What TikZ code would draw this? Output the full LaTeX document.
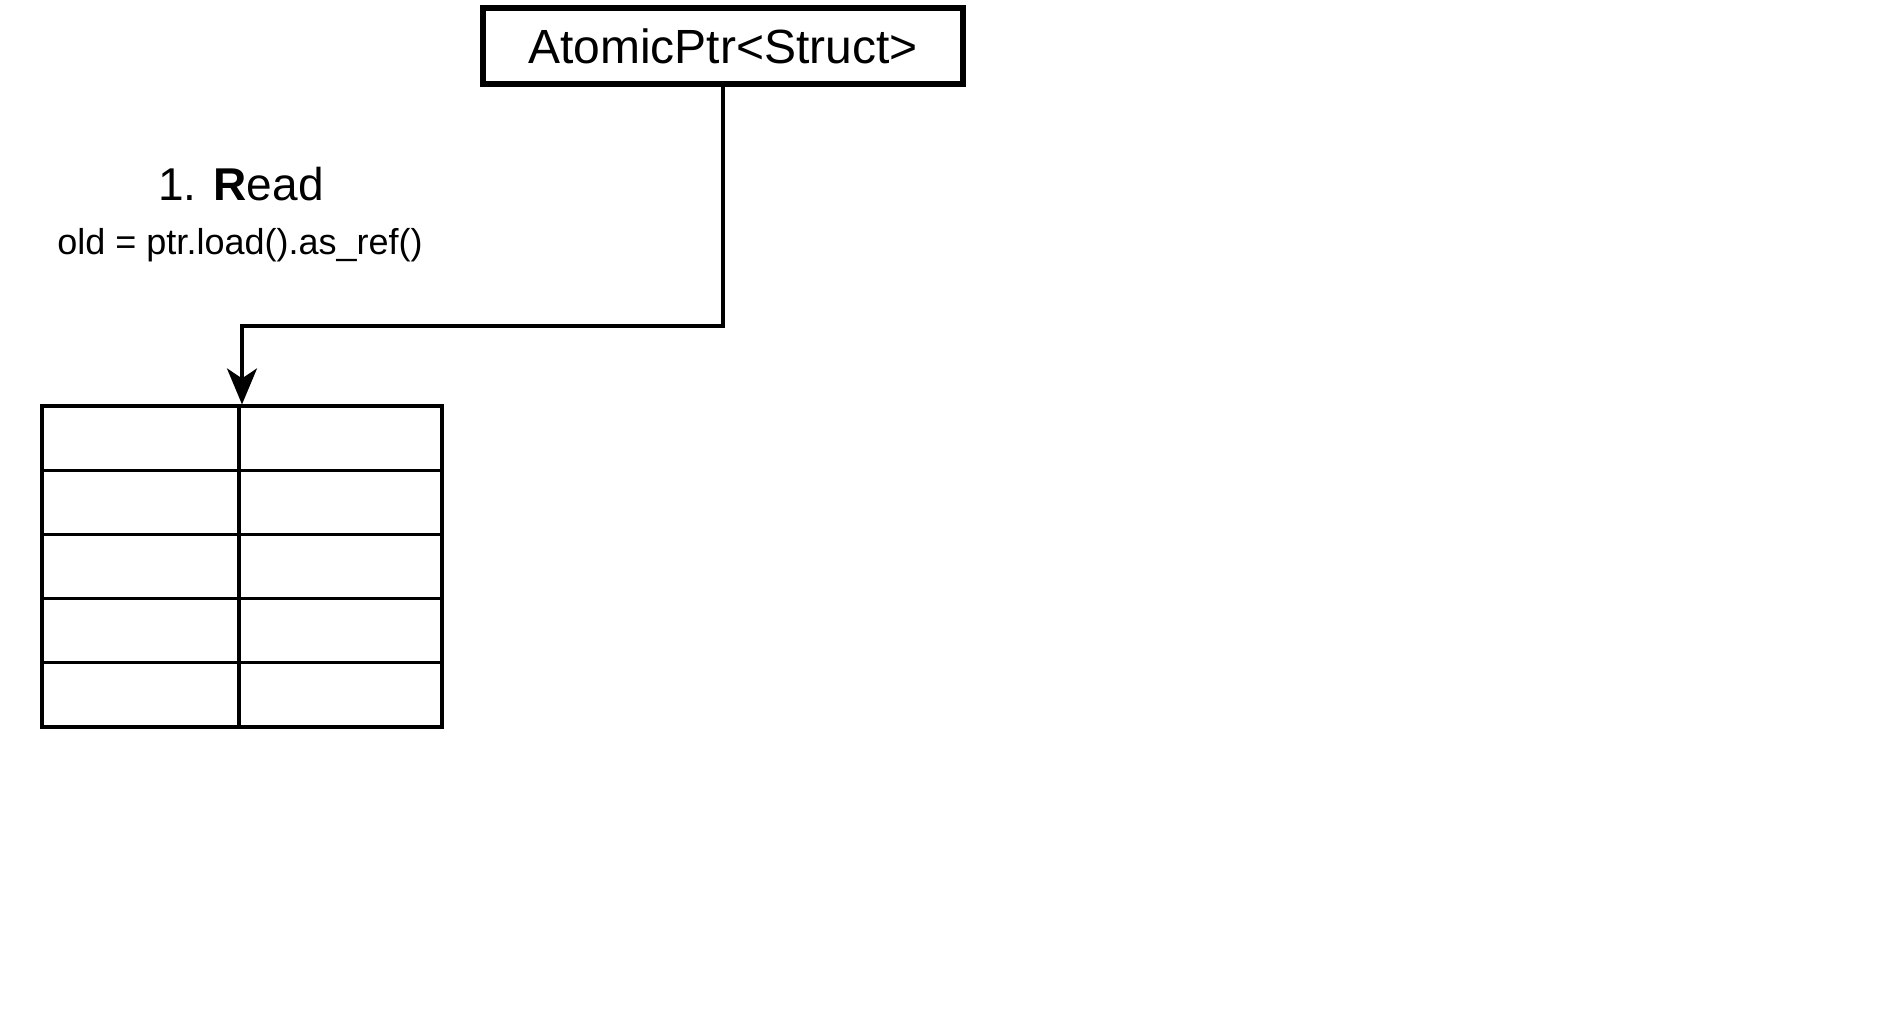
\documentclass[tikz,border=0pt]{standalone}
\usepackage{fontspec}
\setmainfont{Liberation Sans}
\usetikzlibrary{arrows.meta}
\tikzset{
  ptrbox/.style={draw,line width=3pt,minimum width=240pt,minimum height=38pt,inner sep=0pt,font=\fontsize{24}{28}\selectfont},
  cell/.style={draw,line width=1.6pt,minimum height=32.1pt,inner sep=0pt},
  link/.style={line width=1.6pt,-{Stealth[length=18pt,width=15pt,inset=5pt]}},
}
\begin{document}
\begin{tikzpicture}[x=0.5pt,y=-0.5pt]
  \useasboundingbox (0,0) rectangle (1884,1008);
  \node[ptrbox] (ptr) at (723,46) {AtomicPtr<Struct>};
  \node (read) at (241,184) {\fontsize{23}{27}\selectfont 1. \textbf{R}ead};
  \node (code) at (240,245) {\fontsize{18}{22}\selectfont old = ptr.load().as\_ref()};
  % table of the struct
  \node[cell,minimum width=200pt,minimum height=160.5pt] (tbl) at (242,566.5) {};
  \foreach \r in {0,...,4}{
    \node[cell,minimum width=98.5pt] (l\r) at (140.5,438.1+64.2*\r) {};
    \node[cell,minimum width=101.5pt] (r\r) at (340.5,438.1+64.2*\r) {};
  }
  \coordinate (elbow) at (723,326);
  \draw[link] (ptr.south) -- (elbow) -| (tbl.north);
\end{tikzpicture}
\end{document}
